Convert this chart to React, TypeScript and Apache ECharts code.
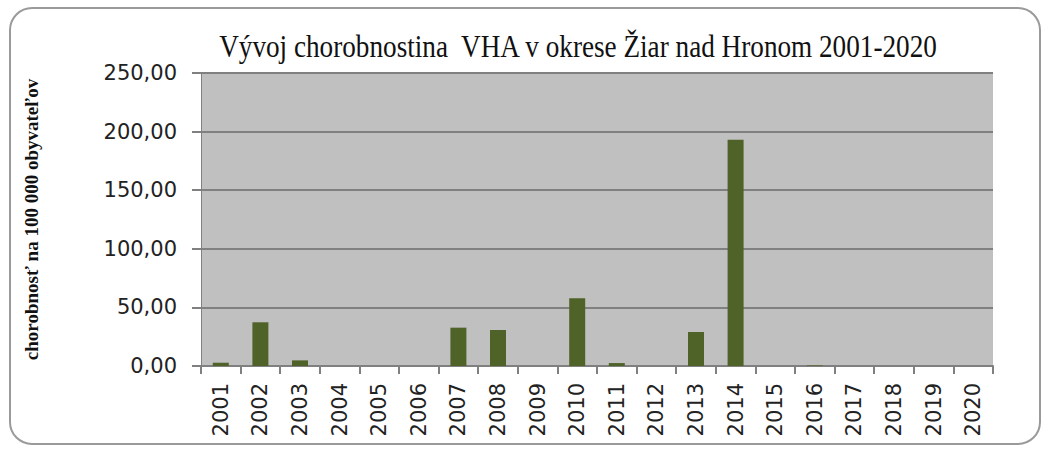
import React, { useEffect, useRef } from "react";
import * as echarts from "echarts";

const titleText = "Vývoj chorobnostina  VHA v okrese Žiar nad Hronom 2001-2020";
const yAxisName = "chorobnosť na 100 000 obyvateľov";
const years = ["2001","2002","2003","2004","2005","2006","2007","2008","2009","2010","2011","2012","2013","2014","2015","2016","2017","2018","2019","2020"];
const values = [2.8, 37.3, 4.8, 0, 0, 0, 32.7, 30.7, 0, 57.8, 2.5, 0, 29, 193, 0, 0.5, 0, 0, 0, 0];

export default function App() {
  const ref = useRef<HTMLDivElement>(null);
  useEffect(() => {
    document.body.style.margin = "0";
    const chart = echarts.init(ref.current!, null, { renderer: "svg" });
    chart.setOption({
      animation: false,
      backgroundColor: "#ffffff",
      graphic: [
        {
          type: "rect",
          shape: { x: 10, y: 8, width: 1030, height: 436, r: 22 },
          style: { fill: "none", stroke: "#9a9a9a", lineWidth: 2 },
          z: -1,
        },
        {
          type: "text",
          x: 578,
          y: 46,
          scaleX: 0.85,
          style: {
            text: titleText,
            fontFamily: "Liberation Serif",
            fontSize: 32,
            fill: "#111",
            textAlign: "center",
            textVerticalAlign: "middle",
          },
        },
      ],
      grid: {
        left: 201, right: 50, top: 73, bottom: 85,
        show: true, backgroundColor: "#c0c0c0", borderWidth: 0,
      },
      xAxis: {
        type: "category",
        data: years,
        boundaryGap: true,
        axisLine: { lineStyle: { color: "#808080", width: 2 } },
        axisTick: { show: true, length: 8, alignWithLabel: false, lineStyle: { color: "#808080", width: 2 } },
        axisLabel: { rotate: 90, interval: 0, margin: 17, fontFamily: "DejaVu Sans", fontSize: 21, color: "#222" },
      },
      yAxis: {
        type: "value",
        min: 0, max: 250, interval: 50,
        name: yAxisName,
        nameLocation: "middle",
        nameGap: 160,
        nameTextStyle: { fontFamily: "Liberation Serif", fontSize: 19, fontWeight: "bold", color: "#111" },
        axisLine: { show: true, lineStyle: { color: "#808080", width: 1 } },
        axisTick: { show: true, length: 9, lineStyle: { color: "#808080", width: 2 } },
        axisLabel: {
          margin: 24,
          fontFamily: "DejaVu Sans", fontSize: 21, color: "#222",
          formatter: (v: number) => v.toFixed(2).replace(".", ","),
        },
        splitLine: { lineStyle: { color: "#808080", width: 2 } },
      },
      series: [
        {
          type: "bar",
          data: values,
          barWidth: 16,
          itemStyle: { color: "#4f6228" },
        },
      ],
    });
    return () => chart.dispose();
  }, []);
  return <div ref={ref} style={{ width: 1043, height: 451 }} />;
}
